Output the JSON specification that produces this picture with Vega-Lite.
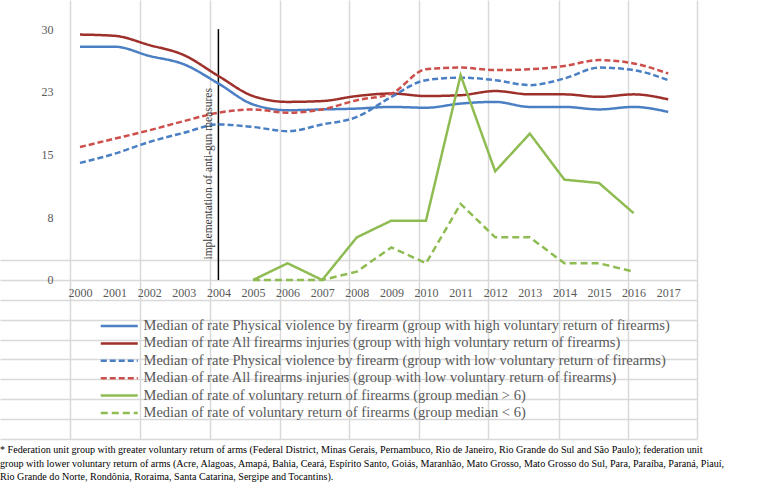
{
  "$schema": "https://vega.github.io/schema/vega-lite/v6.json",
  "width": 697,
  "height": 439,
  "autosize": {"type": "none"},
  "padding": {"left": 0, "top": 0, "right": 81, "bottom": 50},
  "background": "white",
  "config": {"view": {"stroke": null}, "font": "Liberation Serif"},
  "title": {
    "text": [
      "* Federation unit group with greater voluntary return of arms (Federal District, Minas Gerais, Pernambuco, Rio de Janeiro, Rio Grande do Sul and São Paulo); federation unit",
      "group with lower voluntary return of arms (Acre, Alagoas, Amapá, Bahia, Ceará, Espírito Santo, Goiás, Maranhão, Mato Grosso, Mato Grosso do Sul, Para, Paraíba, Paraná, Piauí,",
      "Rio Grande do Norte, Rondônia, Roraima, Santa Catarina, Sergipe and Tocantins)."
    ],
    "orient": "bottom",
    "anchor": "start",
    "frame": "group",
    "font": "Liberation Serif",
    "fontSize": 10.1,
    "fontWeight": "normal",
    "color": "#000000",
    "lineHeight": 13.5,
    "offset": 6,
    "baseline": "top"
  },
  "datasets": {
    "rates": [
      {"series": "Median of rate Physical violence by firearm (group with high voluntary return of firearms)", "year": 2000, "value": 27.9},
      {"series": "Median of rate Physical violence by firearm (group with high voluntary return of firearms)", "year": 2001, "value": 27.9},
      {"series": "Median of rate Physical violence by firearm (group with high voluntary return of firearms)", "year": 2002, "value": 26.8},
      {"series": "Median of rate Physical violence by firearm (group with high voluntary return of firearms)", "year": 2003, "value": 25.8},
      {"series": "Median of rate Physical violence by firearm (group with high voluntary return of firearms)", "year": 2004, "value": 23.5},
      {"series": "Median of rate Physical violence by firearm (group with high voluntary return of firearms)", "year": 2005, "value": 21.0},
      {"series": "Median of rate Physical violence by firearm (group with high voluntary return of firearms)", "year": 2006, "value": 20.3},
      {"series": "Median of rate Physical violence by firearm (group with high voluntary return of firearms)", "year": 2007, "value": 20.4},
      {"series": "Median of rate Physical violence by firearm (group with high voluntary return of firearms)", "year": 2008, "value": 20.5},
      {"series": "Median of rate Physical violence by firearm (group with high voluntary return of firearms)", "year": 2009, "value": 20.7},
      {"series": "Median of rate Physical violence by firearm (group with high voluntary return of firearms)", "year": 2010, "value": 20.6},
      {"series": "Median of rate Physical violence by firearm (group with high voluntary return of firearms)", "year": 2011, "value": 21.1},
      {"series": "Median of rate Physical violence by firearm (group with high voluntary return of firearms)", "year": 2012, "value": 21.3},
      {"series": "Median of rate Physical violence by firearm (group with high voluntary return of firearms)", "year": 2013, "value": 20.7},
      {"series": "Median of rate Physical violence by firearm (group with high voluntary return of firearms)", "year": 2014, "value": 20.7},
      {"series": "Median of rate Physical violence by firearm (group with high voluntary return of firearms)", "year": 2015, "value": 20.4},
      {"series": "Median of rate Physical violence by firearm (group with high voluntary return of firearms)", "year": 2016, "value": 20.7},
      {"series": "Median of rate Physical violence by firearm (group with high voluntary return of firearms)", "year": 2017, "value": 20.1},

      {"series": "Median of rate All firearms injuries (group with high voluntary return of firearms)", "year": 2000, "value": 29.35},
      {"series": "Median of rate All firearms injuries (group with high voluntary return of firearms)", "year": 2001, "value": 29.2},
      {"series": "Median of rate All firearms injuries (group with high voluntary return of firearms)", "year": 2002, "value": 28.1},
      {"series": "Median of rate All firearms injuries (group with high voluntary return of firearms)", "year": 2003, "value": 26.9},
      {"series": "Median of rate All firearms injuries (group with high voluntary return of firearms)", "year": 2004, "value": 24.4},
      {"series": "Median of rate All firearms injuries (group with high voluntary return of firearms)", "year": 2005, "value": 22.0},
      {"series": "Median of rate All firearms injuries (group with high voluntary return of firearms)", "year": 2006, "value": 21.3},
      {"series": "Median of rate All firearms injuries (group with high voluntary return of firearms)", "year": 2007, "value": 21.4},
      {"series": "Median of rate All firearms injuries (group with high voluntary return of firearms)", "year": 2008, "value": 22.0},
      {"series": "Median of rate All firearms injuries (group with high voluntary return of firearms)", "year": 2009, "value": 22.3},
      {"series": "Median of rate All firearms injuries (group with high voluntary return of firearms)", "year": 2010, "value": 22.0},
      {"series": "Median of rate All firearms injuries (group with high voluntary return of firearms)", "year": 2011, "value": 22.1},
      {"series": "Median of rate All firearms injuries (group with high voluntary return of firearms)", "year": 2012, "value": 22.6},
      {"series": "Median of rate All firearms injuries (group with high voluntary return of firearms)", "year": 2013, "value": 22.2},
      {"series": "Median of rate All firearms injuries (group with high voluntary return of firearms)", "year": 2014, "value": 22.2},
      {"series": "Median of rate All firearms injuries (group with high voluntary return of firearms)", "year": 2015, "value": 21.9},
      {"series": "Median of rate All firearms injuries (group with high voluntary return of firearms)", "year": 2016, "value": 22.2},
      {"series": "Median of rate All firearms injuries (group with high voluntary return of firearms)", "year": 2017, "value": 21.6},

      {"series": "Median of rate Physical violence by firearm (group with low voluntary return of firearms)", "year": 2000, "value": 14.0},
      {"series": "Median of rate Physical violence by firearm (group with low voluntary return of firearms)", "year": 2001, "value": 15.1},
      {"series": "Median of rate Physical violence by firearm (group with low voluntary return of firearms)", "year": 2002, "value": 16.5},
      {"series": "Median of rate Physical violence by firearm (group with low voluntary return of firearms)", "year": 2003, "value": 17.6},
      {"series": "Median of rate Physical violence by firearm (group with low voluntary return of firearms)", "year": 2004, "value": 18.6},
      {"series": "Median of rate Physical violence by firearm (group with low voluntary return of firearms)", "year": 2005, "value": 18.3},
      {"series": "Median of rate Physical violence by firearm (group with low voluntary return of firearms)", "year": 2006, "value": 17.8},
      {"series": "Median of rate Physical violence by firearm (group with low voluntary return of firearms)", "year": 2007, "value": 18.6},
      {"series": "Median of rate Physical violence by firearm (group with low voluntary return of firearms)", "year": 2008, "value": 19.5},
      {"series": "Median of rate Physical violence by firearm (group with low voluntary return of firearms)", "year": 2009, "value": 21.9},
      {"series": "Median of rate Physical violence by firearm (group with low voluntary return of firearms)", "year": 2010, "value": 23.9},
      {"series": "Median of rate Physical violence by firearm (group with low voluntary return of firearms)", "year": 2011, "value": 24.2},
      {"series": "Median of rate Physical violence by firearm (group with low voluntary return of firearms)", "year": 2012, "value": 23.9},
      {"series": "Median of rate Physical violence by firearm (group with low voluntary return of firearms)", "year": 2013, "value": 23.3},
      {"series": "Median of rate Physical violence by firearm (group with low voluntary return of firearms)", "year": 2014, "value": 24.1},
      {"series": "Median of rate Physical violence by firearm (group with low voluntary return of firearms)", "year": 2015, "value": 25.4},
      {"series": "Median of rate Physical violence by firearm (group with low voluntary return of firearms)", "year": 2016, "value": 25.1},
      {"series": "Median of rate Physical violence by firearm (group with low voluntary return of firearms)", "year": 2017, "value": 23.9},

      {"series": "Median of rate All firearms injuries (group with low voluntary return of firearms)", "year": 2000, "value": 15.9},
      {"series": "Median of rate All firearms injuries (group with low voluntary return of firearms)", "year": 2001, "value": 16.9},
      {"series": "Median of rate All firearms injuries (group with low voluntary return of firearms)", "year": 2002, "value": 17.9},
      {"series": "Median of rate All firearms injuries (group with low voluntary return of firearms)", "year": 2003, "value": 19.0},
      {"series": "Median of rate All firearms injuries (group with low voluntary return of firearms)", "year": 2004, "value": 20.0},
      {"series": "Median of rate All firearms injuries (group with low voluntary return of firearms)", "year": 2005, "value": 20.4},
      {"series": "Median of rate All firearms injuries (group with low voluntary return of firearms)", "year": 2006, "value": 20.0},
      {"series": "Median of rate All firearms injuries (group with low voluntary return of firearms)", "year": 2007, "value": 20.4},
      {"series": "Median of rate All firearms injuries (group with low voluntary return of firearms)", "year": 2008, "value": 21.5},
      {"series": "Median of rate All firearms injuries (group with low voluntary return of firearms)", "year": 2009, "value": 22.3},
      {"series": "Median of rate All firearms injuries (group with low voluntary return of firearms)", "year": 2010, "value": 25.2},
      {"series": "Median of rate All firearms injuries (group with low voluntary return of firearms)", "year": 2011, "value": 25.4},
      {"series": "Median of rate All firearms injuries (group with low voluntary return of firearms)", "year": 2012, "value": 25.1},
      {"series": "Median of rate All firearms injuries (group with low voluntary return of firearms)", "year": 2013, "value": 25.2},
      {"series": "Median of rate All firearms injuries (group with low voluntary return of firearms)", "year": 2014, "value": 25.6},
      {"series": "Median of rate All firearms injuries (group with low voluntary return of firearms)", "year": 2015, "value": 26.3},
      {"series": "Median of rate All firearms injuries (group with low voluntary return of firearms)", "year": 2016, "value": 25.9},
      {"series": "Median of rate All firearms injuries (group with low voluntary return of firearms)", "year": 2017, "value": 24.7}
    ],
    "returns": [
      {"series": "Median of rate of voluntary return of firearms (group median > 6)", "year": 2005, "value": 0},
      {"series": "Median of rate of voluntary return of firearms (group median > 6)", "year": 2006, "value": 2.0},
      {"series": "Median of rate of voluntary return of firearms (group median > 6)", "year": 2007, "value": 0},
      {"series": "Median of rate of voluntary return of firearms (group median > 6)", "year": 2008, "value": 5.1},
      {"series": "Median of rate of voluntary return of firearms (group median > 6)", "year": 2009, "value": 7.1},
      {"series": "Median of rate of voluntary return of firearms (group median > 6)", "year": 2010, "value": 7.1},
      {"series": "Median of rate of voluntary return of firearms (group median > 6)", "year": 2011, "value": 24.5},
      {"series": "Median of rate of voluntary return of firearms (group median > 6)", "year": 2012, "value": 13.0},
      {"series": "Median of rate of voluntary return of firearms (group median > 6)", "year": 2013, "value": 17.5},
      {"series": "Median of rate of voluntary return of firearms (group median > 6)", "year": 2014, "value": 12.0},
      {"series": "Median of rate of voluntary return of firearms (group median > 6)", "year": 2015, "value": 11.6},
      {"series": "Median of rate of voluntary return of firearms (group median > 6)", "year": 2016, "value": 8.0},

      {"series": "Median of rate of voluntary return of firearms (group median < 6)", "year": 2005, "value": 0},
      {"series": "Median of rate of voluntary return of firearms (group median < 6)", "year": 2006, "value": 0},
      {"series": "Median of rate of voluntary return of firearms (group median < 6)", "year": 2007, "value": 0},
      {"series": "Median of rate of voluntary return of firearms (group median < 6)", "year": 2008, "value": 1.0},
      {"series": "Median of rate of voluntary return of firearms (group median < 6)", "year": 2009, "value": 3.9},
      {"series": "Median of rate of voluntary return of firearms (group median < 6)", "year": 2010, "value": 2.0},
      {"series": "Median of rate of voluntary return of firearms (group median < 6)", "year": 2011, "value": 9.1},
      {"series": "Median of rate of voluntary return of firearms (group median < 6)", "year": 2012, "value": 5.1},
      {"series": "Median of rate of voluntary return of firearms (group median < 6)", "year": 2013, "value": 5.1},
      {"series": "Median of rate of voluntary return of firearms (group median < 6)", "year": 2014, "value": 2.0},
      {"series": "Median of rate of voluntary return of firearms (group median < 6)", "year": 2015, "value": 2.0},
      {"series": "Median of rate of voluntary return of firearms (group median < 6)", "year": 2016, "value": 1.0}
    ],
    "marker": [{"event": "implementation of anti-gun measures", "year": 2004, "from": 0, "to": 30, "labelAt": 12.7}]
  },
  "layer": [
    {
      "data": {"name": "marker"},
      "mark": {"type": "rule", "color": "#000000", "strokeWidth": 1.5},
      "encoding": {
        "x": {
          "field": "year", "type": "quantitative",
          "scale": {"domain": [1997.688, 2017.832], "nice": false, "zero": false},
          "axis": {"orient": "bottom", "values": [1999.711, 2001.734, 2003.757, 2005.78, 2007.775, 2009.798, 2011.792, 2013.844, 2015.838, 2017.832],
                   "grid": true, "gridColor": "#d9d9d9", "gridWidth": 1.5, "labels": false, "ticks": false, "domain": false, "title": null}
        },
        "y": {
          "field": "from", "type": "quantitative",
          "scale": {"domain": [-19.015, 33.485], "nice": false, "zero": false},
          "axis": {"orient": "left", "values": [2.39, 0, -2.39, -4.78, -7.17, -9.45, -11.84, -14.23, -16.62, -19.0],
                   "grid": true, "gridColor": "#d9d9d9", "gridWidth": 1.5, "labels": false, "ticks": false, "domain": false, "title": null}
        },
        "y2": {"field": "to"}
      }
    },
    {
      "data": {"name": "rates"},
      "mark": {"type": "line", "strokeWidth": 2.5, "interpolate": "monotone"},
      "encoding": {
        "x": {
          "field": "year", "type": "quantitative",
          "scale": {"domain": [1997.688, 2017.832], "nice": false, "zero": false},
          "axis": {"orient": "bottom", "offset": -159, "values": [2000,2001,2002,2003,2004,2005,2006,2007,2008,2009,2010,2011,2012,2013,2014,2015,2016,2017],
                   "format": "d", "grid": false, "ticks": false, "tickSize": 0, "domain": false, "title": null,
                   "labelFont": "Liberation Serif", "labelFontSize": 12, "labelColor": "#595959", "labelPadding": 7, "labelFlush": false, "labelOverlap": false}
        },
        "y": {
          "field": "value", "type": "quantitative",
          "scale": {"domain": [-19.015, 33.485], "nice": false, "zero": false},
          "axis": {"orient": "left", "offset": -70, "values": [0, 7.5, 15, 22.5, 30], "format": ".0f",
                   "grid": false, "ticks": false, "tickSize": 0, "domain": false, "title": null,
                   "labelFont": "Liberation Serif", "labelFontSize": 12, "labelColor": "#595959", "labelPadding": 17}
        },
        "color": {
          "field": "series", "type": "nominal",
          "scale": {
            "domain": [
              "Median of rate Physical violence by firearm (group with high voluntary return of firearms)",
              "Median of rate All firearms injuries (group with high voluntary return of firearms)",
              "Median of rate Physical violence by firearm (group with low voluntary return of firearms)",
              "Median of rate All firearms injuries (group with low voluntary return of firearms)",
              "Median of rate of voluntary return of firearms (group median > 6)",
              "Median of rate of voluntary return of firearms (group median < 6)"
            ],
            "range": ["#4a7fc4", "#9e302b", "#4a7fc4", "#cc4f4b", "#8fbc52", "#8fbc52"]
          },
          "legend": {
            "title": null, "orient": "none", "legendX": 112, "legendY": 318.75, "padding": 0,
            "symbolType": "M-5,0H5", "symbolSize": 54.76, "symbolStrokeWidth": 2.5,
            "labelFont": "Liberation Serif", "labelFontSize": 14.5, "labelColor": "#595959", "labelLimit": 800,
            "labelOffset": 17, "rowPadding": 2.4
          }
        },
        "strokeDash": {
          "field": "series", "type": "nominal",
          "scale": {
            "domain": [
              "Median of rate Physical violence by firearm (group with high voluntary return of firearms)",
              "Median of rate All firearms injuries (group with high voluntary return of firearms)",
              "Median of rate Physical violence by firearm (group with low voluntary return of firearms)",
              "Median of rate All firearms injuries (group with low voluntary return of firearms)",
              "Median of rate of voluntary return of firearms (group median > 6)",
              "Median of rate of voluntary return of firearms (group median < 6)"
            ],
            "range": [[1, 0], [1, 0], [6, 3], [6, 3], [1, 0], [7, 4]]
          },
          "legend": {
            "title": null, "orient": "none", "legendX": 112, "legendY": 318.75, "padding": 0,
            "symbolType": "M-5,0H5", "symbolSize": 54.76, "symbolStrokeWidth": 2.5,
            "labelFont": "Liberation Serif", "labelFontSize": 14.5, "labelColor": "#595959", "labelLimit": 800,
            "labelOffset": 17, "rowPadding": 2.4
          }
        }
      }
    },
    {
      "data": {"name": "returns"},
      "mark": {"type": "line", "strokeWidth": 2.5},
      "encoding": {
        "x": {"field": "year", "type": "quantitative", "axis": null},
        "y": {"field": "value", "type": "quantitative", "axis": null},
        "color": {
          "field": "series", "type": "nominal",
          "legend": {
            "title": null, "orient": "none", "legendX": 112, "legendY": 318.75, "padding": 0,
            "symbolType": "M-5,0H5", "symbolSize": 54.76, "symbolStrokeWidth": 2.5,
            "labelFont": "Liberation Serif", "labelFontSize": 14.5, "labelColor": "#595959", "labelLimit": 800,
            "labelOffset": 17, "rowPadding": 2.4
          }
        },
        "strokeDash": {
          "field": "series", "type": "nominal",
          "legend": {
            "title": null, "orient": "none", "legendX": 112, "legendY": 318.75, "padding": 0,
            "symbolType": "M-5,0H5", "symbolSize": 54.76, "symbolStrokeWidth": 2.5,
            "labelFont": "Liberation Serif", "labelFontSize": 14.5, "labelColor": "#595959", "labelLimit": 800,
            "labelOffset": 17, "rowPadding": 2.4
          }
        }
      }
    },
    {
      "data": {"name": "marker"},
      "mark": {"type": "text", "angle": 270, "align": "center", "baseline": "alphabetic", "dy": -6.5,
               "font": "Liberation Serif", "fontSize": 11.5, "color": "#404040"},
      "encoding": {
        "x": {"field": "year", "type": "quantitative", "axis": null},
        "y": {"field": "labelAt", "type": "quantitative", "axis": null},
        "text": {"field": "event"}
      }
    }
  ],
  "resolve": {"axis": {"x": "independent", "y": "independent"}}
}
